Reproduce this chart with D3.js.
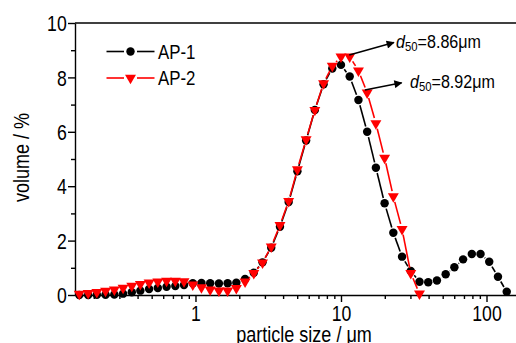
<!DOCTYPE html>
<html>
<head>
<meta charset="utf-8">
<script src="https://cdn.jsdelivr.net/npm/d3@7"></script>
<style>
  body { margin: 0; background: #fff; }
  text { font-family: "Liberation Sans", Arial, sans-serif; fill: #000; }
</style>
</head>
<body>
<svg width="516" height="343"></svg>
<script>
'use strict';

// particle size classes (um)
const sizes = [0.159, 0.183, 0.21, 0.241, 0.277, 0.318, 0.365, 0.418, 0.48, 0.551,
  0.633, 0.727, 0.834, 0.958, 1.099, 1.262, 1.449, 1.663, 1.909, 2.192,
  2.516, 2.889, 3.316, 3.807, 4.37, 5.017, 5.759, 6.612, 7.59, 8.713,
  10.0, 11.48, 13.18, 15.13, 17.37, 19.94, 22.89, 26.28, 30.17, 34.63,
  39.76, 45.64, 52.4, 60.15, 69.05, 79.27, 91.0, 104.4, 119.9, 137.7];

// volume %
const ap1 = [0.0, 0.0, 0.01, 0.01, 0.02, 0.05, 0.1, 0.16, 0.22, 0.26,
  0.3, 0.33, 0.37, 0.43, 0.44, 0.43, 0.42, 0.43, 0.45, 0.59,
  0.82, 1.2, 1.74, 2.51, 3.42, 4.55, 5.68, 6.8, 7.75, 8.33,
  8.46, 8.03, 7.17, 6.0, 4.68, 3.37, 2.29, 1.41, 0.88, 0.49,
  0.47, 0.53, 0.76, 1.02, 1.31, 1.51, 1.51, 1.22, 0.67, 0.12];

const ap2 = [0.04, 0.07, 0.1, 0.15, 0.2, 0.26, 0.33, 0.4, 0.45, 0.49,
  0.52, 0.52, 0.5, 0.38, 0.28, 0.2, 0.16, 0.16, 0.25, 0.49,
  0.8, 1.19, 1.78, 2.57, 3.45, 4.62, 5.72, 6.8, 7.78, 8.42,
  8.76, 8.76, 8.25, 7.44, 6.31, 5.04, 3.62, 2.42, 0.8, 0.05];

const xTicks = [1, 10, 100];
const yTicks = [0, 2, 4, 6, 8, 10];
const seriesNames = ['AP-1', 'AP-2'];
const d50Values = ['8.86', '8.92'];
// arrow start/end and label anchor, in data units
const d50Arrows = [[11.4, 8.82, 23.1, 9.28], [14.6, 7.54, 26.1, 7.8]];
const d50Labels = [[23.9, 9.07], [29.8, 7.6]];

const SX = 0.82; // narrow look of the original font

const svg = d3.select('svg');

const x = d3.scaleLog().domain([0.1486, 169.9]).range([75, 520]);
const y = d3.scaleLinear().domain([0, 10]).range([295, 23]);

svg.append('defs').append('marker')
    .attr('id', 'arrow')
    .attr('viewBox', '0 0 10 10')
    .attr('refX', 9).attr('refY', 5)
    .attr('markerUnits', 'userSpaceOnUse')
    .attr('markerWidth', 11).attr('markerHeight', 8)
    .attr('orient', 'auto')
  .append('path')
    .attr('d', 'M0,0L10,5L0,10z')
    .attr('fill', '#000');

// axes
const xMinor = [];
[0.1, 1, 10, 100].forEach(dec => {
  for (let k = 2; k <= 9; k++) {
    const v = dec * k;
    if (v > x.domain()[0] && v < x.domain()[1]) xMinor.push(v);
  }
});

svg.append('g')
    .attr('transform', 'translate(0,295)')
    .call(d3.axisBottom(x).tickValues(xMinor).tickSize(4).tickFormat(''))
    .call(g => g.select('.domain').remove());

const xAxis = svg.append('g')
    .attr('transform', 'translate(0,295)')
    .call(d3.axisBottom(x).tickValues(xTicks).tickSize(7).tickSizeOuter(0)
      .tickFormat(d3.format('d')));
xAxis.selectAll('text')
    .attr('font-size', 21.5).attr('dy', 0).attr('y', 26.5)
    .attr('transform', `scale(${SX},1)`);

svg.append('g')
    .attr('transform', 'translate(75,0)')
    .call(d3.axisLeft(y).tickValues([1, 3, 5, 7, 9]).tickSize(4).tickFormat(''))
    .call(g => g.select('.domain').remove());

const yAxis = svg.append('g')
    .attr('transform', 'translate(75,0)')
    .call(d3.axisLeft(y).tickValues(yTicks).tickSize(7).tickSizeOuter(0));
yAxis.selectAll('text')
    .attr('font-size', 21.5).attr('x', -8.3 / SX).attr('dy', '0.36em')
    .attr('transform', `scale(${SX},1)`);

svg.selectAll('.domain, .tick line').attr('stroke', '#000').attr('stroke-width', 1.4);

// top frame line
svg.append('line')
    .attr('x1', x.range()[0]).attr('x2', x.range()[1])
    .attr('y1', y(10)).attr('y2', y(10))
    .attr('stroke', '#000').attr('stroke-width', 1.4);

// axis titles
svg.append('text')
    .attr('transform', `translate(28.5,157.5) rotate(-90) scale(${SX},1)`)
    .attr('text-anchor', 'middle')
    .attr('font-size', 22)
    .text('volume / %');

svg.append('text')
    .attr('transform', `translate(304,342) scale(${SX},1)`)
    .attr('text-anchor', 'middle')
    .attr('font-size', 22)
    .text('particle size / \u03bcm');

// lines with a gap at each symbol
function gapSegments(vals, gap) {
  const pts = vals.map((v, i) => [x(sizes[i]), y(v)]);
  const segs = [];
  for (let i = 0; i < pts.length - 1; i++) {
    const [x1, y1] = pts[i], [x2, y2] = pts[i + 1];
    const L = Math.hypot(x2 - x1, y2 - y1);
    if (L <= 2 * gap) continue;
    const ux = (x2 - x1) / L, uy = (y2 - y1) / L;
    segs.push([x1 + ux * gap, y1 + uy * gap, x2 - ux * gap, y2 - uy * gap]);
  }
  return segs;
}

const series = [
  { vals: ap1, color: '#000', symbol: d3.symbolCircle, size: 56, rot: 0 },
  { vals: ap2, color: '#ff0000', symbol: d3.symbolTriangle, size: 52, rot: 180 }
];

series.forEach(s => {
  const g = svg.append('g');
  g.selectAll('line').data(gapSegments(s.vals, 5.5))
    .enter().append('line')
      .attr('x1', d => d[0]).attr('y1', d => d[1])
      .attr('x2', d => d[2]).attr('y2', d => d[3])
      .attr('stroke', s.color).attr('stroke-width', 1.6);
  g.selectAll('path').data(s.vals)
    .enter().append('path')
      .attr('d', d3.symbol().type(s.symbol).size(s.size))
      .attr('transform', (d, i) => `translate(${x(sizes[i])},${y(d)}) rotate(${s.rot})`)
      .attr('fill', s.color);
});

// legend
series.forEach((s, i) => {
  const ly = 51.5 + i * 26.5;
  const g = svg.append('g');
  g.append('line').attr('x1', 106.5).attr('x2', 124).attr('y1', ly).attr('y2', ly)
    .attr('stroke', s.color).attr('stroke-width', 1.6);
  g.append('line').attr('x1', 137).attr('x2', 154.5).attr('y1', ly).attr('y2', ly)
    .attr('stroke', s.color).attr('stroke-width', 1.6);
  g.append('path')
    .attr('d', d3.symbol().type(s.symbol).size(s.size))
    .attr('transform', `translate(130.5,${ly}) rotate(${s.rot})`)
    .attr('fill', s.color);
  g.append('text')
    .attr('transform', `translate(158,${ly + 7.3}) scale(0.86,1)`)
    .attr('font-size', 19.6)
    .text(seriesNames[i]);
});

// d50 annotations
d50Arrows.forEach(a => {
  svg.append('line')
      .attr('x1', x(a[0])).attr('y1', y(a[1]))
      .attr('x2', x(a[2])).attr('y2', y(a[3]))
      .attr('stroke', '#000').attr('stroke-width', 1.5)
      .attr('marker-end', 'url(#arrow)');
});

d50Labels.forEach((p, i) => {
  const t = svg.append('text')
      .attr('transform', `translate(${x(p[0])},${y(p[1])}) scale(0.87,1)`)
      .attr('font-size', 18.5);
  t.append('tspan').attr('font-style', 'italic').text('d');
  t.append('tspan').attr('font-size', 13).attr('dy', 3).text('50');
  t.append('tspan').attr('dy', -3).text('=' + d50Values[i] + '\u03bcm');
});
</script>
</body>
</html>
